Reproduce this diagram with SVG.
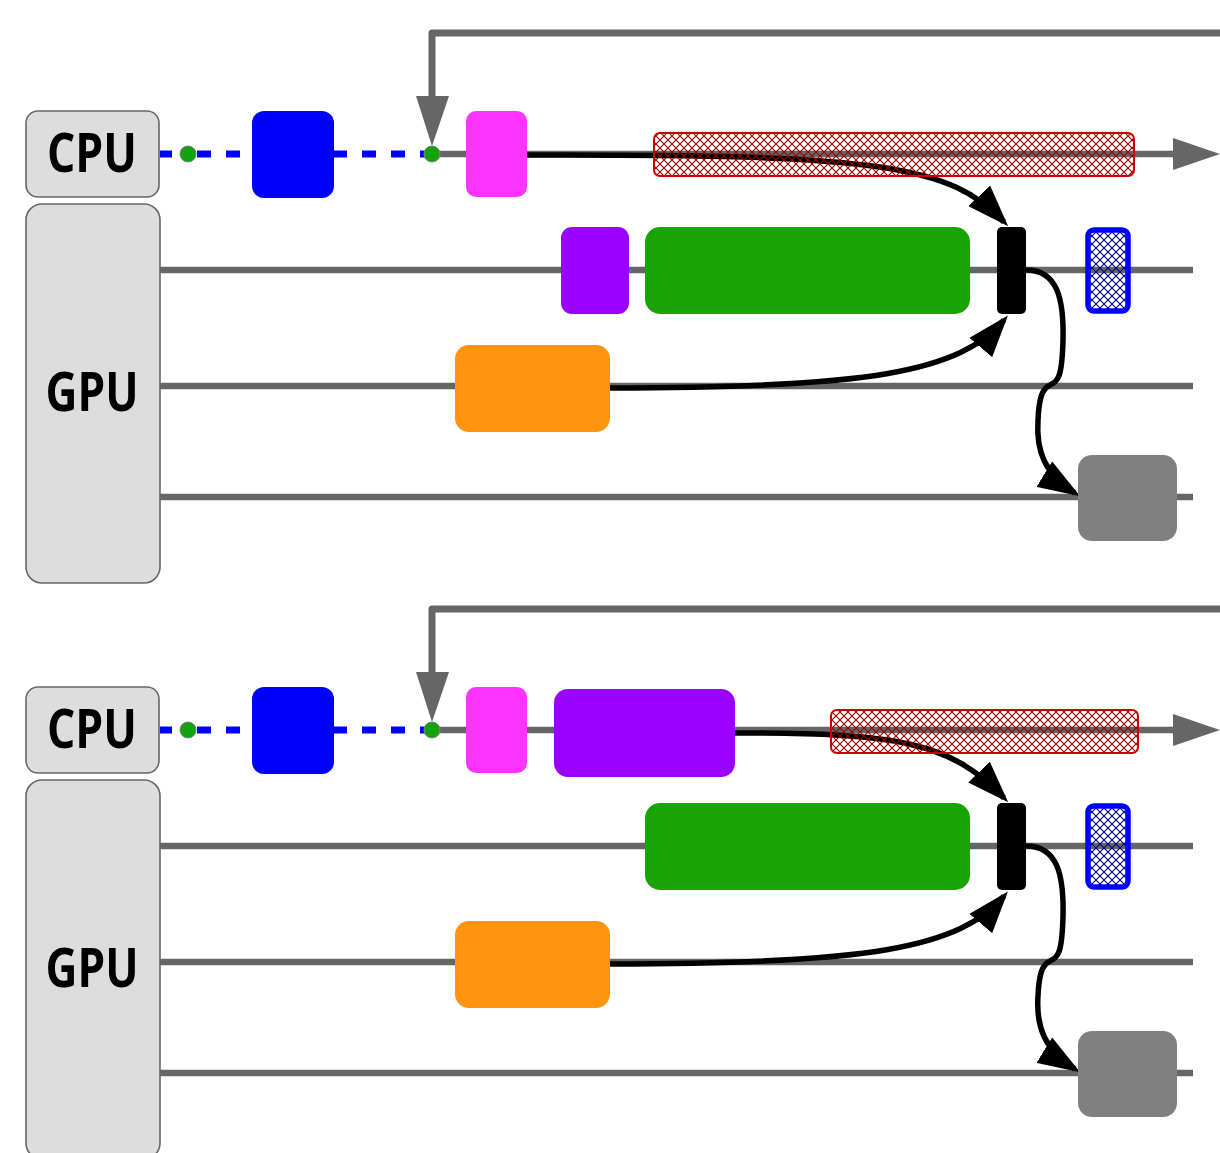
<svg xmlns="http://www.w3.org/2000/svg" width="1220" height="1153" viewBox="0 0 1220 1153">
  <style>
    .lane { stroke: #666666; stroke-width: 6.5; fill: none; }
    .feed { stroke: #666666; stroke-width: 7; fill: none; stroke-linejoin: round; }
    .dash { stroke: #0000ff; stroke-width: 7; fill: none; }
    .dash-seg { stroke: #0000ff; stroke-width: 7; fill: none; stroke-dasharray: 14 15; }
    .head { fill: #666666; }
    .unit { fill: #dddddd; stroke: #666666; stroke-width: 1.6; }
    .unit-label { font-family: "Open Sans", "Noto Sans", "DejaVu Sans", sans-serif; font-weight: bold; font-size: 53px; fill: #000000; text-anchor: middle; }
    .dot { fill: #10a30c; stroke: #808080; stroke-width: 1; }
    .flow { stroke: #000000; stroke-width: 5.5; fill: none; marker-end: url(#arrow); }
    .blue { fill: #0000ff; }
    .pink { fill: #ff33ff; }
    .purple { fill: #9900ff; }
    .green { fill: #18a405; }
    .orange { fill: #ff9410; }
    .grey { fill: #808080; }
    .sync { fill: #000000; }
    .busy { fill: url(#hatch-red); stroke: #cc0000; stroke-width: 2; }
    .fence { fill: url(#hatch-blue); stroke: #0000ff; stroke-width: 5.5; }
  </style>
  <defs>
    <marker id="arrow" markerUnits="userSpaceOnUse" markerWidth="42" markerHeight="30" viewBox="0 0 42 30" refX="36" refY="15" orient="auto">
      <path d="M0,0 L42,15 L0,30 z" fill="#000000"/>
    </marker>
    <pattern id="hatch-red" patternUnits="userSpaceOnUse" width="8" height="8">
      <path d="M0,0 L8,8 M8,0 L0,8" stroke="#990000" stroke-width="1.1"/>
    </pattern>
    <pattern id="hatch-blue" patternUnits="userSpaceOnUse" width="8" height="8">
      <path d="M0,0 L8,8 M8,0 L0,8" stroke="#000080" stroke-width="1.1"/>
    </pattern>
  </defs>

  <rect width="1220" height="1153" fill="#ffffff"/>

  <!-- ===== upper timeline ===== -->
  <g id="lanes-top">
    <line class="lane" x1="432" y1="154" x2="1180" y2="154"/>
    <polygon class="head" points="1173,138 1220,154 1173,170"/>
    <line class="lane" x1="160" y1="270" x2="1193" y2="270"/>
    <line class="lane" x1="160" y1="386" x2="1193" y2="386"/>
    <line class="lane" x1="160" y1="497" x2="1193" y2="497"/>
    <line class="dash" x1="160" y1="154" x2="172" y2="154"/>
    <line class="dash-seg" x1="197" y1="154" x2="252" y2="154"/>
    <line class="dash-seg" x1="333" y1="154" x2="432" y2="154"/>
    <path class="feed" d="M1220,33 L432,33 L432,100"/>
    <polygon class="head" points="416,96 449,96 432,146"/>
  </g>

  <g id="connectors-top">
    <path class="flow" d="M527,155 C880,154 950,165 1004,222"/>
    <path class="flow" d="M610,388 C870,388 960,372 1004,320"/>
    <path class="flow" d="M1026,270 C1058,270 1064,300 1063,340 C1062,378 1058,381 1050,385 C1042,389 1039,398 1038,420 C1036,450 1044,474 1075,493"/>
  </g>

  <g id="cpu-top"><rect class="unit" x="26" y="111" width="133" height="86" rx="12"/><text class="unit-label" x="92" y="172" textLength="90" lengthAdjust="spacingAndGlyphs">CPU</text></g>
  <g id="gpu-top"><rect class="unit" x="26" y="204" width="134" height="379" rx="16"/><text class="unit-label" x="92" y="411" textLength="93" lengthAdjust="spacingAndGlyphs">GPU</text></g>
  <g id="dot-top-a"><circle class="dot" cx="188" cy="154" r="8"/></g>
  <g id="dot-top-b"><circle class="dot" cx="432" cy="154" r="8"/></g>
  <g id="blue-top"><rect class="blue" x="252" y="111" width="82" height="87" rx="12"/></g>
  <g id="pink-top"><rect class="pink" x="466" y="111" width="61" height="86" rx="10"/></g>
  <g id="wait-top"><rect class="busy" x="654" y="133" width="480" height="43" rx="6"/></g>
  <g id="purple-top"><rect class="purple" x="561" y="227" width="68" height="87" rx="11"/></g>
  <g id="green-top"><rect class="green" x="645" y="227" width="325" height="87" rx="15"/></g>
  <g id="sync-top"><rect class="sync" x="997" y="227" width="29" height="87" rx="5"/></g>
  <g id="fence-top"><rect class="fence" x="1088" y="230" width="40" height="81" rx="6"/></g>
  <g id="orange-top"><rect class="orange" x="455" y="345" width="155" height="87" rx="14"/></g>
  <g id="grey-top"><rect class="grey" x="1078" y="455" width="99" height="86" rx="14"/></g>

  <!-- ===== lower timeline ===== -->
  <g id="lanes-bottom">
    <line class="lane" x1="432" y1="730" x2="1180" y2="730"/>
    <polygon class="head" points="1173,714 1220,730 1173,746"/>
    <line class="lane" x1="160" y1="846" x2="1193" y2="846"/>
    <line class="lane" x1="160" y1="962" x2="1193" y2="962"/>
    <line class="lane" x1="160" y1="1073" x2="1193" y2="1073"/>
    <line class="dash" x1="160" y1="730" x2="172" y2="730"/>
    <line class="dash-seg" x1="197" y1="730" x2="252" y2="730"/>
    <line class="dash-seg" x1="333" y1="730" x2="432" y2="730"/>
    <path class="feed" d="M1220,609 L432,609 L432,676"/>
    <polygon class="head" points="416,672 449,672 432,722"/>
  </g>

  <g id="connectors-bottom">
    <path class="flow" d="M735,733 C900,733 950,742 1004,798"/>
    <path class="flow" d="M610,964 C870,964 960,948 1004,896"/>
    <path class="flow" d="M1026,846 C1058,846 1064,876 1063,916 C1062,954 1058,957 1050,961 C1042,965 1039,974 1038,996 C1036,1026 1044,1050 1075,1069"/>
  </g>

  <g id="cpu-bottom"><rect class="unit" x="26" y="687" width="133" height="86" rx="12"/><text class="unit-label" x="92" y="748" textLength="90" lengthAdjust="spacingAndGlyphs">CPU</text></g>
  <g id="gpu-bottom"><rect class="unit" x="26" y="780" width="134" height="379" rx="16"/><text class="unit-label" x="92" y="987" textLength="93" lengthAdjust="spacingAndGlyphs">GPU</text></g>
  <g id="dot-bottom-a"><circle class="dot" cx="188" cy="730" r="8"/></g>
  <g id="dot-bottom-b"><circle class="dot" cx="432" cy="730" r="8"/></g>
  <g id="blue-bottom"><rect class="blue" x="252" y="687" width="82" height="87" rx="12"/></g>
  <g id="pink-bottom"><rect class="pink" x="466" y="687" width="61" height="86" rx="10"/></g>
  <g id="purple-bottom"><rect class="purple" x="554" y="689" width="181" height="88" rx="14"/></g>
  <g id="wait-bottom"><rect class="busy" x="831" y="710" width="307" height="43" rx="6"/></g>
  <g id="green-bottom"><rect class="green" x="645" y="803" width="325" height="87" rx="15"/></g>
  <g id="sync-bottom"><rect class="sync" x="997" y="803" width="29" height="87" rx="5"/></g>
  <g id="fence-bottom"><rect class="fence" x="1088" y="806" width="40" height="81" rx="6"/></g>
  <g id="orange-bottom"><rect class="orange" x="455" y="921" width="155" height="87" rx="14"/></g>
  <g id="grey-bottom"><rect class="grey" x="1078" y="1031" width="99" height="86" rx="14"/></g>
</svg>
